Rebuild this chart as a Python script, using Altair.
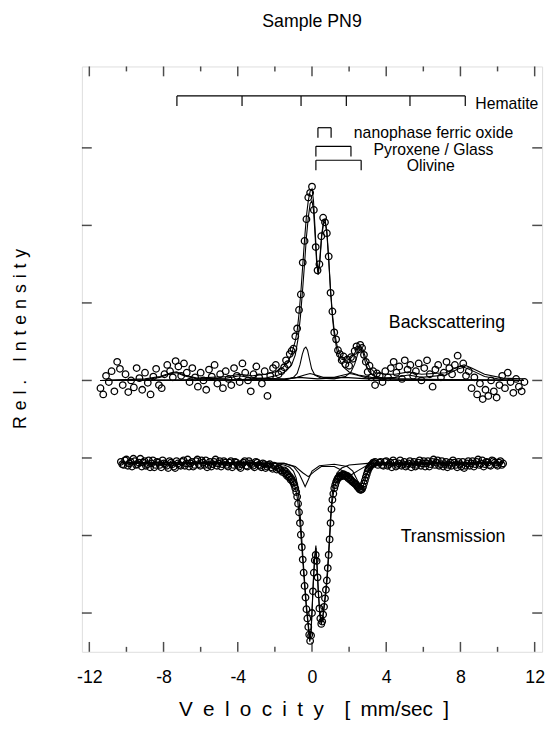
import altair as alt
import pandas as pd

FONT = "Liberation Sans"
X_DOMAIN = [-12.4, 12.4]
Y_DOMAIN = [-0.5, 7.05]

x_major_ticks = [-12, -8, -4, 0, 4, 8, 12]
x_minor_ticks = [-10, -6, -2, 2, 6, 10]
y_ticks = [0, 1, 2, 3, 4, 5, 6]

TITLE = "Sample PN9"
X_TITLE = "V\u2002e\u2002l\u2002o\u2002c\u2002i\u2002t\u2002y\u2002\u2002[\u2002mm/sec\u2002]"
Y_TITLE = "R\u2004e\u2004l\u2004.\u2004\u2004\u2004I\u2004n\u2004t\u2004e\u2004n\u2004s\u2004i\u2004t\u2004y"

# ---------------- Backscattering spectrum (measured points) ----------------
bs_points = [
    (-11.4, 2.90), (-11.25, 2.82), (-11.1, 3.06), (-10.95, 2.98), (-10.8, 3.12), (-10.65, 2.86),
    (-10.5, 3.24), (-10.35, 3.15), (-10.2, 2.94), (-10.05, 3.08), (-9.9, 2.85), (-9.75, 3.00),
    (-9.6, 2.91), (-9.45, 3.16), (-9.3, 3.03), (-9.15, 2.88), (-9.0, 3.10), (-8.85, 2.97),
    (-8.7, 2.82), (-8.55, 3.05), (-8.4, 3.15), (-8.25, 2.94), (-8.1, 2.90), (-7.95, 3.08),
    (-7.8, 3.20), (-7.65, 3.12), (-7.5, 3.04), (-7.35, 3.25), (-7.2, 3.18), (-7.05, 3.06),
    (-6.9, 3.22), (-6.75, 3.10), (-6.6, 2.98), (-6.45, 3.16), (-6.3, 3.04), (-6.15, 2.92),
    (-6.0, 3.10), (-5.85, 3.00), (-5.7, 2.88), (-5.55, 3.14), (-5.4, 3.05), (-5.25, 3.20),
    (-5.1, 2.96), (-4.95, 3.08), (-4.8, 2.90), (-4.65, 3.12), (-4.5, 3.02), (-4.35, 2.94),
    (-4.2, 3.16), (-4.05, 3.06), (-3.9, 2.98), (-3.75, 3.22), (-3.6, 3.10), (-3.45, 3.00),
    (-3.3, 2.86), (-3.15, 3.08), (-3.0, 3.18), (-2.85, 3.04), (-2.7, 2.96), (-2.55, 3.12),
    (-2.4, 2.80), (-2.25, 3.06), (-2.1, 3.16), (-1.95, 3.20), (-1.8, 3.08), (-1.65, 3.12),
    (-1.5, 3.17), (-1.4, 3.26), (-1.3, 3.21), (-1.2, 3.34), (-1.1, 3.38), (-1.0, 3.41),
    (-0.9, 3.57), (-0.8, 3.67), (-0.7, 3.91), (-0.6, 4.11), (-0.5, 4.52), (-0.4, 4.80),
    (-0.3, 5.08), (-0.2, 5.36), (-0.1, 5.42), (0.0, 5.50), (0.1, 5.20), (0.2, 4.72),
    (0.3, 4.42), (0.4, 4.50), (0.5, 4.86), (0.6, 5.10), (0.7, 5.04), (0.8, 4.90),
    (0.9, 4.60), (1.0, 4.13), (1.1, 3.89), (1.2, 3.62), (1.3, 3.53), (1.4, 3.39),
    (1.5, 3.34), (1.6, 3.26), (1.7, 3.31), (1.8, 3.21), (1.9, 3.27), (2.0, 3.19),
    (2.1, 3.30), (2.2, 3.28), (2.3, 3.38), (2.4, 3.44), (2.5, 3.40), (2.6, 3.46),
    (2.7, 3.42), (2.8, 3.33), (2.9, 3.24), (3.0, 3.11), (3.1, 3.19), (3.2, 3.04),
    (3.3, 3.12), (3.4, 2.94), (3.5, 3.09),
    (3.65, 3.06), (3.8, 2.98), (3.95, 3.12), (4.1, 3.04), (4.25, 3.16), (4.4, 3.24),
    (4.55, 3.10), (4.7, 3.18), (4.85, 3.02), (5.0, 3.26), (5.15, 3.14), (5.3, 3.20),
    (5.45, 3.06), (5.6, 3.12), (5.75, 3.22), (5.9, 3.00), (6.05, 3.16), (6.2, 3.26),
    (6.35, 3.08), (6.5, 2.92), (6.65, 3.14), (6.8, 3.20), (6.95, 3.04), (7.1, 3.10),
    (7.25, 3.24), (7.4, 3.16), (7.55, 3.08), (7.7, 3.20), (7.85, 3.32), (8.0, 3.14),
    (8.15, 3.22), (8.3, 3.06), (8.45, 3.12), (8.6, 2.90), (8.75, 3.04), (8.9, 2.82),
    (9.05, 2.96), (9.2, 2.76), (9.35, 2.88), (9.5, 2.80), (9.65, 3.00), (9.8, 2.86),
    (9.95, 2.78), (10.1, 2.94), (10.25, 3.06), (10.4, 2.90), (10.55, 3.10), (10.7, 2.98),
    (10.85, 2.84), (11.0, 3.02), (11.15, 2.92), (11.3, 2.86), (11.45, 2.98),
]

# Backscattering fit: total envelope and sub-spectra
bs_fit = [
    (-11.4, 3.00), (-9.0, 3.02), (-8.2, 3.05), (-7.6, 3.10), (-7.3, 3.11), (-6.9, 3.07),
    (-6.2, 3.03), (-4.6, 3.05), (-3.9, 3.08), (-3.2, 3.06), (-2.5, 3.08), (-2.0, 3.11),
    (-1.6, 3.16), (-1.3, 3.24), (-1.1, 3.34), (-0.9, 3.51), (-0.8, 3.64), (-0.7, 3.86),
    (-0.6, 4.14), (-0.5, 4.48), (-0.4, 4.82), (-0.3, 5.12), (-0.2, 5.32), (-0.1, 5.44),
    (0.0, 5.47), (0.08, 5.32), (0.16, 4.98), (0.25, 4.58), (0.33, 4.40), (0.42, 4.56),
    (0.52, 4.88), (0.62, 5.05), (0.7, 5.08), (0.8, 4.93), (0.9, 4.58), (1.0, 4.17),
    (1.1, 3.86), (1.2, 3.64), (1.35, 3.45), (1.5, 3.34), (1.7, 3.27), (1.9, 3.26),
    (2.1, 3.29), (2.3, 3.35), (2.45, 3.42), (2.6, 3.45), (2.75, 3.40), (2.9, 3.28),
    (3.1, 3.17), (3.4, 3.10), (4.0, 3.08), (4.5, 3.08), (5.2, 3.11), (5.9, 3.08),
    (7.2, 3.10), (7.9, 3.18), (8.2, 3.20), (8.6, 3.16), (9.3, 3.08), (10.3, 3.03),
    (11.4, 3.02),
]
bs_doublet = [
    (-11.4, 3.00), (-4.0, 3.01), (-2.5, 3.03), (-1.8, 3.07), (-1.4, 3.12), (-1.1, 3.20),
    (-0.9, 3.33), (-0.75, 3.54), (-0.62, 3.83), (-0.5, 4.19), (-0.4, 4.51), (-0.3, 4.85),
    (-0.2, 5.10), (-0.1, 5.28), (0.0, 5.32), (0.08, 5.20), (0.16, 4.90), (0.25, 4.52),
    (0.33, 4.36), (0.42, 4.52), (0.52, 4.85), (0.62, 5.02), (0.7, 5.05), (0.8, 4.90),
    (0.9, 4.55), (1.0, 4.15), (1.1, 3.82), (1.2, 3.59), (1.35, 3.38), (1.5, 3.26),
    (1.7, 3.17), (2.0, 3.11), (2.5, 3.07), (3.2, 3.04), (4.5, 3.02), (7.0, 3.01),
    (11.4, 3.00),
]
bs_olivine = [
    (-11.4, 3.00), (-1.4, 3.01), (-1.0, 3.04), (-0.8, 3.09), (-0.65, 3.20), (-0.52, 3.34),
    (-0.42, 3.41), (-0.33, 3.43), (-0.24, 3.39), (-0.14, 3.28), (-0.02, 3.15), (0.15, 3.07),
    (0.5, 3.03), (1.2, 3.02), (1.8, 3.05), (2.1, 3.11), (2.3, 3.21), (2.45, 3.33),
    (2.55, 3.39), (2.65, 3.41), (2.75, 3.36), (2.88, 3.23), (3.05, 3.12), (3.3, 3.06),
    (4.0, 3.02), (11.4, 3.00),
]
bs_pyroxene = [
    (-11.4, 3.00), (-1.5, 3.01), (-0.8, 3.04), (-0.4, 3.07), (-0.1, 3.09), (0.2, 3.07),
    (0.6, 3.04), (1.2, 3.04), (1.7, 3.07), (2.05, 3.09), (2.4, 3.07), (3.0, 3.03),
    (4.0, 3.01), (11.4, 3.00),
]
bs_hematite = [
    (-11.4, 3.00), (-9.0, 3.01), (-8.2, 3.04), (-7.6, 3.09), (-7.3, 3.10), (-6.9, 3.06),
    (-6.2, 3.02), (-4.6, 3.03), (-3.9, 3.06), (-3.2, 3.03), (-1.5, 3.02), (-0.7, 3.04),
    (0.3, 3.02), (1.75, 3.04), (3.0, 3.02), (4.5, 3.04), (5.2, 3.07), (5.9, 3.04),
    (7.2, 3.07), (7.9, 3.15), (8.2, 3.17), (8.6, 3.13), (9.3, 3.05), (10.3, 3.01),
    (11.4, 3.00),
]
bs_baseline = [(-11.4, 3.00), (11.4, 3.00)]

# ---------------- Transmission spectrum (measured points) ----------------
tr_points = [
    (-10.3, 1.95), (-10.15, 1.91), (-10.0, 1.98), (-9.85, 1.93), (-9.7, 1.89), (-9.55, 1.96),
    (-9.4, 1.92), (-9.25, 1.99), (-9.1, 1.94), (-8.95, 1.90), (-8.8, 1.97), (-8.65, 1.93),
    (-8.5, 1.88), (-8.35, 1.95), (-8.2, 1.91), (-8.05, 1.97), (-7.9, 1.92), (-7.75, 1.87),
    (-7.6, 1.94), (-7.45, 1.89), (-7.3, 1.96), (-7.15, 1.91), (-7.0, 1.95), (-6.85, 1.90),
    (-6.7, 1.98), (-6.55, 1.93), (-6.4, 1.89), (-6.25, 1.96), (-6.1, 1.92), (-5.95, 1.97),
    (-5.8, 1.91), (-5.65, 1.88), (-5.5, 1.95), (-5.35, 1.92), (-5.2, 1.98), (-5.05, 1.93),
    (-4.9, 1.89), (-4.75, 1.96), (-4.6, 1.91), (-4.45, 1.94), (-4.3, 1.88), (-4.15, 1.95),
    (-4.0, 1.91), (-3.85, 1.87), (-3.7, 1.94), (-3.55, 1.90), (-3.4, 1.96), (-3.25, 1.92),
    (-3.1, 1.88), (-2.95, 1.94), (-2.8, 1.90), (-2.65, 1.93), (-2.5, 1.87), (-2.35, 1.91),
    (-2.2, 1.88), (-2.05, 1.90), (-1.9, 1.85), (-1.75, 1.86), (-1.6, 1.82),
    (-10.225, 1.92), (-10.075, 1.97), (-9.925, 1.90), (-9.775, 1.95), (-9.625, 1.99), (-9.475, 1.91),
    (-9.325, 1.94), (-9.175, 1.89), (-9.025, 1.96), (-8.875, 1.92), (-8.725, 1.88), (-8.575, 1.97),
    (-8.425, 1.91), (-8.275, 1.94), (-8.125, 1.88), (-7.975, 1.93), (-7.825, 1.90), (-7.675, 1.96),
    (-7.525, 1.92), (-7.375, 1.87), (-7.225, 1.93), (-7.075, 1.90), (-6.925, 1.97), (-6.775, 1.93),
    (-6.625, 1.89), (-6.475, 1.95), (-6.325, 1.91), (-6.175, 1.98), (-6.025, 1.90), (-5.875, 1.94),
    (-5.725, 1.97), (-5.575, 1.91), (-5.425, 1.89), (-5.275, 1.95), (-5.125, 1.90), (-4.975, 1.96),
    (-4.825, 1.92), (-4.675, 1.94), (-4.525, 1.89), (-4.375, 1.96), (-4.225, 1.91), (-4.075, 1.94),
    (-3.925, 1.89), (-3.775, 1.92), (-3.625, 1.96), (-3.475, 1.89), (-3.325, 1.93), (-3.175, 1.90),
    (-3.025, 1.95), (-2.875, 1.91), (-2.725, 1.88), (-2.575, 1.92), (-2.425, 1.89), (-2.275, 1.92),
    (-2.125, 1.86), (-1.975, 1.89), (-1.825, 1.87), (-1.675, 1.84),
    (-1.5, 1.84), (-1.45, 1.80), (-1.4, 1.82), (-1.35, 1.77), (-1.3, 1.79), (-1.25, 1.75),
    (-1.2, 1.76), (-1.15, 1.72), (-1.1, 1.73), (-1.05, 1.70), (-1.0, 1.68), (-0.95, 1.65),
    (-0.9, 1.61), (-0.85, 1.56), (-0.8, 1.50), (-0.75, 1.41), (-0.7, 1.30), (-0.65, 1.16),
    (-0.6, 1.01), (-0.55, 0.85), (-0.5, 0.69), (-0.45, 0.52), (-0.4, 0.35), (-0.35, 0.20),
    (-0.3, 0.05), (-0.25, -0.07), (-0.2, -0.18), (-0.15, -0.28), (-0.1, -0.36), (-0.05, -0.29),
    (0.0, 0.00), (0.05, 0.28), (0.1, 0.52), (0.15, 0.68), (0.2, 0.75), (0.25, 0.67),
    (0.3, 0.46), (0.35, 0.24), (0.4, 0.06), (0.45, -0.07), (0.5, -0.14), (0.55, -0.11),
    (0.6, -0.02), (0.65, 0.08), (0.7, 0.19), (0.75, 0.30), (0.8, 0.42), (0.85, 0.58),
    (0.9, 0.75), (0.95, 0.95), (1.0, 1.16), (1.05, 1.34), (1.1, 1.46), (1.15, 1.54),
    (1.2, 1.61), (1.25, 1.65), (1.3, 1.69), (1.35, 1.72), (1.4, 1.74), (1.45, 1.75),
    (1.5, 1.77), (1.55, 1.76), (1.6, 1.78), (1.65, 1.77), (1.7, 1.79), (1.75, 1.77),
    (1.8, 1.78), (1.85, 1.76), (1.9, 1.77), (1.95, 1.74), (2.0, 1.75), (2.05, 1.72),
    (2.1, 1.72), (2.15, 1.70), (2.2, 1.69), (2.25, 1.68), (2.3, 1.67), (2.35, 1.66),
    (2.4, 1.65), (2.45, 1.63), (2.5, 1.62), (2.55, 1.60), (2.6, 1.59), (2.65, 1.59),
    (2.7, 1.60), (2.75, 1.63), (2.8, 1.67), (2.85, 1.71), (2.9, 1.75), (2.95, 1.79),
    (3.0, 1.83), (3.05, 1.86), (3.1, 1.88), (3.15, 1.90), (3.2, 1.91), (3.25, 1.92),
    (3.3, 1.94), (3.35, 1.93), (3.4, 1.95),
    (3.55, 1.91), (3.7, 1.95), (3.85, 1.90), (4.0, 1.96), (4.15, 1.92), (4.3, 1.88),
    (4.45, 1.94), (4.6, 1.91), (4.75, 1.97), (4.9, 1.92), (5.05, 1.89), (5.2, 1.93),
    (5.35, 1.88), (5.5, 1.95), (5.65, 1.91), (5.8, 1.97), (5.95, 1.93), (6.1, 1.89),
    (6.25, 1.96), (6.4, 1.92), (6.55, 1.98), (6.7, 1.94), (6.85, 1.90), (7.0, 1.96),
    (7.15, 1.92), (7.3, 1.88), (7.45, 1.94), (7.6, 1.97), (7.75, 1.91), (7.9, 1.95),
    (8.05, 1.89), (8.2, 1.87), (8.35, 1.93), (8.5, 1.90), (8.65, 1.96), (8.8, 1.92),
    (8.95, 1.98), (9.1, 1.93), (9.25, 1.89), (9.4, 1.95), (9.55, 1.91), (9.7, 1.97),
    (9.85, 1.94), (10.0, 1.90), (10.15, 1.96), (10.3, 1.93),
    (3.625, 1.94), (3.775, 1.91), (3.925, 1.95), (4.075, 1.90), (4.225, 1.94), (4.375, 1.97),
    (4.525, 1.89), (4.675, 1.93), (4.825, 1.90), (4.975, 1.95), (5.125, 1.91), (5.275, 1.96),
    (5.425, 1.92), (5.575, 1.89), (5.725, 1.94), (5.875, 1.90), (6.025, 1.96), (6.175, 1.93),
    (6.325, 1.89), (6.475, 1.95), (6.625, 1.91), (6.775, 1.97), (6.925, 1.92), (7.075, 1.89),
    (7.225, 1.95), (7.375, 1.91), (7.525, 1.90), (7.675, 1.94), (7.825, 1.88), (7.975, 1.92),
    (8.125, 1.95), (8.275, 1.90), (8.425, 1.96), (8.575, 1.93), (8.725, 1.89), (8.875, 1.95),
    (9.025, 1.91), (9.175, 1.97), (9.325, 1.92), (9.475, 1.94), (9.625, 1.90), (9.775, 1.96),
    (9.925, 1.92), (10.075, 1.94), (10.225, 1.91),
]

tr_fit = [
    (-10.3, 1.94), (-8.2, 1.92), (-7.4, 1.91), (-6.6, 1.93), (-3.9, 1.92), (-3.0, 1.92),
    (-2.2, 1.89), (-1.8, 1.86), (-1.5, 1.82), (-1.25, 1.76), (-1.05, 1.70), (-0.9, 1.62),
    (-0.8, 1.50), (-0.72, 1.34), (-0.64, 1.13), (-0.56, 0.88), (-0.48, 0.62), (-0.4, 0.35),
    (-0.3, 0.05), (-0.2, -0.18), (-0.12, -0.37), (-0.05, -0.25), (0.0, 0.00), (0.07, 0.38),
    (0.14, 0.68), (0.21, 0.84), (0.27, 0.60), (0.34, 0.26), (0.42, -0.02), (0.5, -0.15),
    (0.58, -0.07), (0.66, 0.08), (0.75, 0.26), (0.82, 0.44), (0.88, 0.65), (0.95, 0.93),
    (1.02, 1.23), (1.08, 1.41), (1.16, 1.55), (1.26, 1.66), (1.4, 1.73), (1.6, 1.77),
    (1.8, 1.77), (2.0, 1.74), (2.2, 1.69), (2.4, 1.65), (2.52, 1.62), (2.63, 1.59),
    (2.72, 1.61), (2.82, 1.68), (2.92, 1.76), (3.05, 1.84), (3.2, 1.89), (3.5, 1.92),
    (4.5, 1.93), (5.2, 1.91), (6.2, 1.93), (7.5, 1.93), (8.2, 1.91), (9.0, 1.93),
    (10.3, 1.94),
]
tr_doublet = [
    (-10.3, 1.94), (-3.0, 1.94), (-2.0, 1.93), (-1.5, 1.91), (-1.2, 1.88), (-1.0, 1.83),
    (-0.85, 1.74), (-0.75, 1.59), (-0.66, 1.35), (-0.57, 1.03), (-0.48, 0.69), (-0.4, 0.42),
    (-0.3, 0.10), (-0.2, -0.14), (-0.12, -0.33), (-0.05, -0.22), (0.0, 0.03), (0.07, 0.41),
    (0.14, 0.71), (0.21, 0.87), (0.27, 0.64), (0.34, 0.29), (0.42, 0.01), (0.5, -0.12),
    (0.58, -0.04), (0.66, 0.12), (0.75, 0.32), (0.82, 0.52), (0.88, 0.74), (0.95, 1.03),
    (1.02, 1.32), (1.1, 1.55), (1.2, 1.71), (1.35, 1.81), (1.6, 1.87), (2.0, 1.91),
    (3.0, 1.93), (10.3, 1.94),
]
tr_olivine = [
    (-10.3, 1.94), (-1.5, 1.93), (-1.0, 1.89), (-0.7, 1.80), (-0.5, 1.70), (-0.37, 1.63),
    (-0.2, 1.72), (0.0, 1.83), (0.4, 1.90), (1.2, 1.92), (1.9, 1.89), (2.2, 1.83),
    (2.45, 1.71), (2.62, 1.64), (2.8, 1.73), (3.05, 1.85), (3.5, 1.91), (10.3, 1.94),
]
tr_pyroxene = [
    (-10.3, 1.94), (-1.5, 1.93), (-0.9, 1.89), (-0.5, 1.81), (-0.2, 1.76), (0.1, 1.82),
    (0.5, 1.89), (1.2, 1.89), (1.7, 1.83), (2.1, 1.78), (2.5, 1.84), (3.0, 1.91),
    (3.5, 1.93), (10.3, 1.94),
]

# ---------------- Stick diagrams (line positions, mm/s) ----------------
hematite_lines = [-7.28, -3.77, -0.59, 1.85, 5.28, 8.26]
npox_lines = [0.32, 1.03]
pyroxene_lines = [0.21, 2.1]
olivine_lines = [0.21, 2.65]
bracket_levels = [6.67, 6.26, 6.02, 5.84]
bracket_drop = 0.13

labels_left = [("Hematite", 8.8, 6.56, 16), ("Backscattering", 4.14, 3.74, 18), ("Transmission", 4.78, 0.98, 18)]
labels_center = [("nanophase ferric oxide", 6.55, 6.19), ("Pyroxene / Glass", 6.55, 5.97), ("Olivine", 6.4, 5.76)]

# ---------------- build tables ----------------
def curve_df(name, pts):
    return pd.DataFrame({"v": [p[0] for p in pts], "y": [p[1] for p in pts], "curve": name})

lines_df = pd.concat([
    curve_df("bs_fit", bs_fit), curve_df("bs_doublet", bs_doublet), curve_df("bs_olivine", bs_olivine),
    curve_df("bs_pyroxene", bs_pyroxene), curve_df("bs_hematite", bs_hematite), curve_df("bs_base", bs_baseline),
    curve_df("tr_fit", tr_fit), curve_df("tr_doublet", tr_doublet), curve_df("tr_olivine", tr_olivine),
    curve_df("tr_pyroxene", tr_pyroxene),
], ignore_index=True)

points_df = pd.concat([
    pd.DataFrame(bs_points, columns=["v", "y"]),
    pd.DataFrame(tr_points, columns=["v", "y"]),
], ignore_index=True)

groups = [hematite_lines, npox_lines, pyroxene_lines, olivine_lines]
hbar_rows, vbar_rows = [], []
for lines_, lvl in zip(groups, bracket_levels):
    hbar_rows.append({"v": min(lines_), "v2": max(lines_), "y": lvl})
    for v in lines_:
        vbar_rows.append({"v": v, "y": lvl, "y2": lvl - bracket_drop})
hbar_df = pd.DataFrame(hbar_rows)
vbar_df = pd.DataFrame(vbar_rows)

lab_left_df = pd.DataFrame(labels_left, columns=["text", "v", "y", "size"])
lab_center_df = pd.DataFrame(labels_center, columns=["text", "v", "y"])

xs = alt.Scale(domain=X_DOMAIN, nice=False, zero=False)
ys = alt.Scale(domain=Y_DOMAIN, nice=False, zero=False)

x_axis = alt.Axis(
    values=x_major_ticks, ticks=False, tickSize=0, domain=False, grid=False,
    labelExpr="'' + datum.value", labelFont=FONT, labelFontSize=18, labelColor="black",
    labelPadding=17, labelFlush=False,
    title=X_TITLE, titleFont=FONT, titleFontSize=21, titleFontWeight="normal", titleColor="black",
    titleX=235, titleY=59, titleAlign="center", titleBaseline="middle")
y_axis = alt.Axis(
    labels=False, ticks=False, tickSize=0, domain=False, grid=False,
    title=Y_TITLE, titleFont=FONT, titleFontSize=18, titleFontWeight="normal", titleColor="black",
    titleX=-62, titleY=276, titleAlign="center", titleBaseline="middle")

points = alt.Chart(points_df).mark_point(
    shape="circle", filled=False, size=44, strokeWidth=1.3, color="black", opacity=1
).encode(
    x=alt.X("v:Q", scale=xs, axis=x_axis, title=X_TITLE),
    y=alt.Y("y:Q", scale=ys, axis=y_axis, title=Y_TITLE),
)

lines = alt.Chart(lines_df).mark_line(color="black", strokeWidth=1.1).encode(
    x="v:Q", y="y:Q", detail="curve:N", order="v:Q"
)

hbars = alt.Chart(hbar_df).mark_rule(color="black", strokeWidth=1.2).encode(
    x="v:Q", x2="v2:Q", y="y:Q"
)
vbars = alt.Chart(vbar_df).mark_rule(color="black", strokeWidth=1.2).encode(
    x="v:Q", y="y:Q", y2="y2:Q"
)

text_left = alt.Chart(lab_left_df).mark_text(align="left", baseline="middle", font=FONT, color="black").encode(
    x="v:Q", y="y:Q", text="text:N",
    size=alt.Size("size:Q", scale=None, legend=None)
)
text_center = alt.Chart(lab_center_df).mark_text(align="center", baseline="middle", font=FONT, fontSize=16, color="black").encode(
    x="v:Q", y="y:Q", text="text:N"
)

# frame ticks (inward), placed through the scales
xmaj = pd.DataFrame({"v": x_major_ticks})
xmin = pd.DataFrame({"v": x_minor_ticks})
ytk = pd.DataFrame({"y": y_ticks})

tick_layers = [
    alt.Chart(xmaj).mark_tick(orient="vertical", size=10, thickness=1.5, yOffset=-5, color="black").encode(
        x="v:Q", y=alt.datum(Y_DOMAIN[0])),
    alt.Chart(xmaj).mark_tick(orient="vertical", size=10, thickness=1.5, yOffset=5, color="black").encode(
        x="v:Q", y=alt.datum(Y_DOMAIN[1])),
    alt.Chart(xmin).mark_tick(orient="vertical", size=5, thickness=1.5, yOffset=-2.5, color="black").encode(
        x="v:Q", y=alt.datum(Y_DOMAIN[0])),
    alt.Chart(xmin).mark_tick(orient="vertical", size=5, thickness=1.5, yOffset=2.5, color="black").encode(
        x="v:Q", y=alt.datum(Y_DOMAIN[1])),
    alt.Chart(ytk).mark_tick(orient="horizontal", size=10, thickness=1.5, xOffset=5, color="black").encode(
        y="y:Q", x=alt.datum(X_DOMAIN[0])),
    alt.Chart(ytk).mark_tick(orient="horizontal", size=10, thickness=1.5, xOffset=-5, color="black").encode(
        y="y:Q", x=alt.datum(X_DOMAIN[1])),
]

chart = alt.layer(points, lines, hbars, vbars, text_left, text_center, *tick_layers).properties(
    width=467, height=594,
    autosize=alt.AutoSizeParams(type="none"),
    padding={"left": 75, "top": 54, "right": 6, "bottom": 72},
    title=alt.TitleParams(TITLE, font=FONT, fontSize=18, fontWeight="normal", color="black",
                          anchor="middle", offset=36),
).configure_view(stroke="black", strokeWidth=2).configure(background="white")

chart.save("out.html", embed_options={"renderer": "svg", "actions": False})
